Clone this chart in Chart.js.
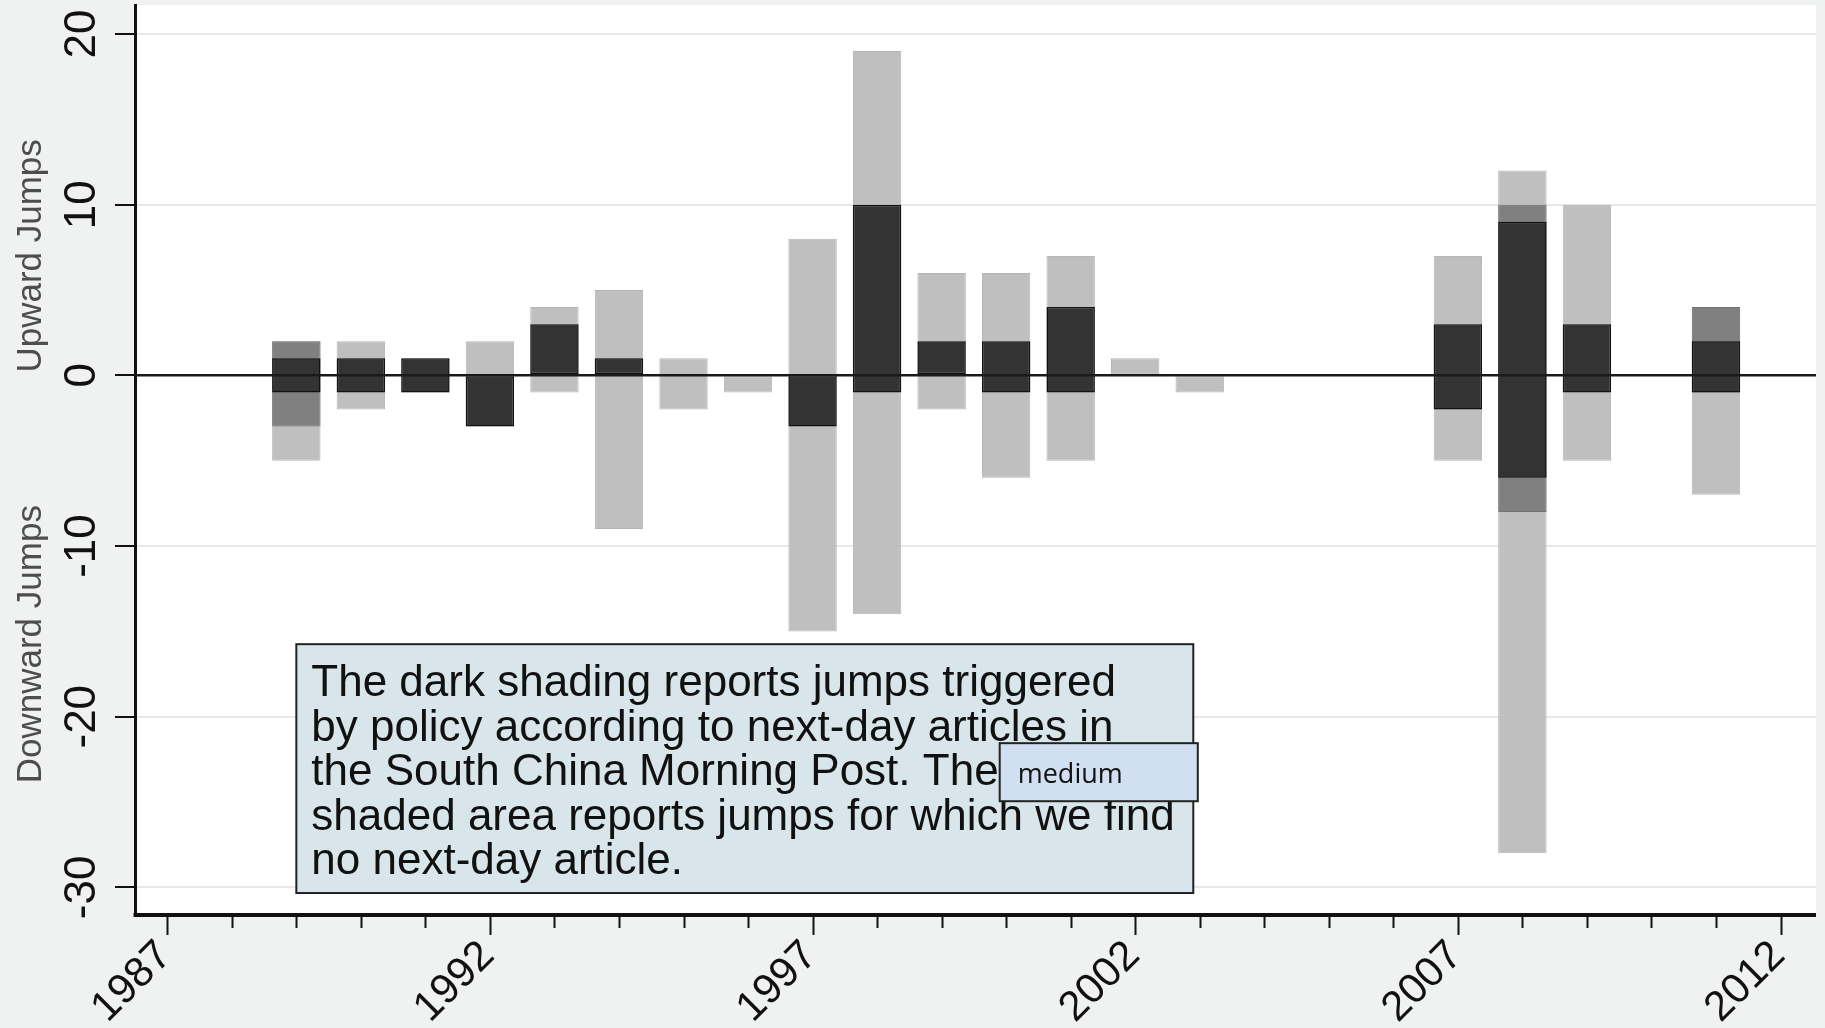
<!DOCTYPE html>
<html>
<head>
<meta charset="utf-8">
<script src="https://cdn.jsdelivr.net/npm/chart.js@4.4.0/dist/chart.umd.min.js"></script>
<style>
html, body { margin: 0; padding: 0; background: #f0f2f1; }
#wrap { width: 1825px; height: 1028px; }
</style>
</head>
<body>
<div id="wrap"><canvas id="jumps" width="1825" height="1028"></canvas></div>
<script>
// years with at least one jump
const years = [1989, 1990, 1991, 1992, 1993, 1994, 1995, 1996, 1997, 1998, 1999, 2000, 2001, 2002, 2003, 2007, 2008, 2009, 2011];

// light grey : all jumps (no next-day article)
const lightUp   = [2, 2, 1, 2, 4, 5, 1, 0, 8, 19, 6, 6, 7, 1, 0, 7, 12, 10, 4];
const lightDown = [-5, -2, -1, -3, -1, -9, -2, -1, -15, -14, -2, -6, -5, 0, -1, -5, -28, -5, -7];
// medium grey
const mediumUp   = [2, null, null, null, null, null, null, null, null, null, null, null, null, null, null, null, 10, null, 4];
const mediumDown = [-3, null, null, null, null, null, null, null, null, null, null, null, null, null, null, null, -8, null, -1];
// dark : triggered by policy
const darkUp   = [1, 1, 1, 0, 3, 1, null, null, 0, 10, 2, 2, 4, null, null, 3, 9, 3, 2];
const darkDown = [-1, -1, -1, -3, 0, 0, null, null, -3, -1, 0, -1, -1, null, null, -2, -6, -1, -1];

const xTickLabels = [1987, 1992, 1997, 2002, 2007, 2012];
const yTicks = [-30, -20, -10, 0, 10, 20];
const yTitles = ['Upward Jumps', 'Downward Jumps'];

const noteLines = [
    'The dark shading reports jumps triggered',
    'by policy according to next-day articles in',
    'the South China Morning Post. The',
    'shaded area reports jumps for which we find',
    'no next-day article.'
];
const noteTag = 'medium';

const FONT = '"Liberation Sans", Arial, sans-serif';

function toBars(lo, hi) {
    return years
        .map((yr, i) => (lo[i] === null || hi[i] === null) ? null : { x: yr, y: [lo[i], hi[i]] })
        .filter(d => d !== null);
}

// axes, labels and the note box
const framePlugin = {
    id: 'frame',
    beforeDraw(chart) {
        const { ctx, chartArea: a } = chart;
        ctx.save();
        ctx.fillStyle = '#ffffff';
        ctx.fillRect(a.left, a.top, a.right - a.left, a.bottom - a.top);
        ctx.restore();
    },
    afterDatasetsDraw(chart) {
        const { ctx, chartArea: a, scales: { y } } = chart;
        const y0 = y.getPixelForValue(0);
        ctx.save();
        ctx.strokeStyle = '#1a1a1a';
        ctx.lineWidth = 2.5;
        ctx.beginPath();
        ctx.moveTo(a.left, y0);
        ctx.lineTo(a.right, y0);
        ctx.stroke();
        ctx.restore();
    },
    afterDraw(chart) {
        const { ctx, chartArea: a, scales: { x, y } } = chart;
        ctx.save();

        // x axis line and ticks
        ctx.fillStyle = '#111';
        ctx.fillRect(a.left - 1.5, a.bottom, a.right - a.left + 1.5, 4);
        ctx.strokeStyle = '#111';
        ctx.lineWidth = 2;
        for (let yr = 1987; yr <= 2012; yr++) {
            const px = Math.round(x.getPixelForValue(yr)) + 0.5;
            const len = xTickLabels.includes(yr) ? 22 : 15;
            ctx.beginPath();
            ctx.moveTo(px, a.bottom + 2);
            ctx.lineTo(px, a.bottom + len);
            ctx.stroke();
        }

        // x labels, rotated 45
        ctx.fillStyle = '#111';
        ctx.font = '42px ' + FONT;
        ctx.textAlign = 'right';
        ctx.textBaseline = 'middle';
        xTickLabels.forEach(yr => {
            const px = x.getPixelForValue(yr);
            ctx.save();
            ctx.translate(px - 2, a.bottom + 36);
            ctx.rotate(-Math.PI / 4);
            ctx.fillText(String(yr), 0, 0);
            ctx.restore();
        });

        // y labels, vertical
        ctx.font = '44px ' + FONT;
        ctx.textAlign = 'center';
        ctx.textBaseline = 'alphabetic';
        yTicks.forEach(v => {
            ctx.save();
            ctx.translate(a.left - 40, y.getPixelForValue(v));
            ctx.rotate(-Math.PI / 2);
            ctx.fillText(String(v), 0, 0);
            ctx.restore();
        });

        // y titles
        ctx.fillStyle = '#4d4d4d';
        ctx.font = '35px ' + FONT;
        const titleAt = [7, -15.75];
        yTitles.forEach((t, i) => {
            ctx.save();
            ctx.translate(41, y.getPixelForValue(titleAt[i]));
            ctx.rotate(-Math.PI / 2);
            ctx.fillText(t, 0, 0);
            ctx.restore();
        });

        // note box
        const bx0 = x.getPixelForValue(1989.0), bx1 = x.getPixelForValue(2002.9);
        const by0 = y.getPixelForValue(-15.75), by1 = y.getPixelForValue(-30.33);
        ctx.fillStyle = '#d8e6eb';
        ctx.fillRect(bx0, by0, bx1 - bx0, by1 - by0);
        ctx.strokeStyle = '#222';
        ctx.lineWidth = 2;
        ctx.strokeRect(bx0, by0, bx1 - bx0, by1 - by0);
        ctx.fillStyle = '#111';
        ctx.font = '44px ' + FONT;
        ctx.textAlign = 'left';
        noteLines.forEach((line, i) => {
            ctx.fillText(line, bx0 + 15, by0 + 52 + i * 44.5);
        });

        // small tag box
        const tx0 = x.getPixelForValue(1999.9), tx1 = x.getPixelForValue(2002.97);
        const ty0 = y.getPixelForValue(-21.55), ty1 = y.getPixelForValue(-24.95);
        ctx.fillStyle = '#d0dff1';
        ctx.fillRect(tx0, ty0, tx1 - tx0, ty1 - ty0);
        ctx.strokeStyle = '#222';
        ctx.lineWidth = 2;
        ctx.strokeRect(tx0, ty0, tx1 - tx0, ty1 - ty0);
        ctx.fillStyle = '#111';
        ctx.font = '27px "Open Sans", sans-serif';
        ctx.fillText(noteTag, tx0 + 18, ty0 + 40);

        ctx.restore();
    }
};

const ctx = document.getElementById('jumps').getContext('2d');

new Chart(ctx, {
    type: 'bar',
    data: {
        datasets: [
            {
                label: 'dark',
                data: toBars(darkDown, darkUp),
                backgroundColor: '#333333',
                borderColor: '#111111',
                borderWidth: 1.5,
                order: 1,
            },
            {
                label: 'medium',
                data: toBars(mediumDown, mediumUp),
                backgroundColor: '#808080',
                borderColor: '#737373',
                borderWidth: 1,
                order: 2,
            },
            {
                label: 'light',
                data: toBars(lightDown, lightUp),
                backgroundColor: '#bfbfbf',
                borderColor: '#b5b5b5',
                borderWidth: 1,
                order: 3,
            },
        ],
    },
    options: {
        responsive: false,
        devicePixelRatio: 1,
        animation: false,
        layout: { padding: { top: 5, right: 9, left: 0, bottom: 0 } },
        plugins: {
            legend: { display: false },
            tooltip: { enabled: false },
        },
        datasets: {
            bar: {
                grouped: false,
                barPercentage: 0.75,
                categoryPercentage: 1,
                borderSkipped: false,
            },
        },
        scales: {
            x: {
                type: 'linear',
                offset: false,
                min: 1986.5,
                max: 2012.55,
                grid: { display: false, offset: false },
                border: { display: false },
                ticks: { display: false },
                afterFit(scale) { scale.height = 115; },
            },
            y: {
                min: -31.5,
                max: 21.7,
                afterBuildTicks(scale) { scale.ticks = yTicks.map(v => ({ value: v })); },
                ticks: { display: false },
                grid: {
                    color: '#e6e9e8',
                    lineWidth: 2,
                    tickColor: '#111',
                    tickLength: 20,
                    tickWidth: 2,
                },
                border: { color: '#111', width: 3 },
                afterFit(scale) { scale.width = 135; },
            },
        },
    },
    plugins: [framePlugin],
});
</script>
</body>
</html>
